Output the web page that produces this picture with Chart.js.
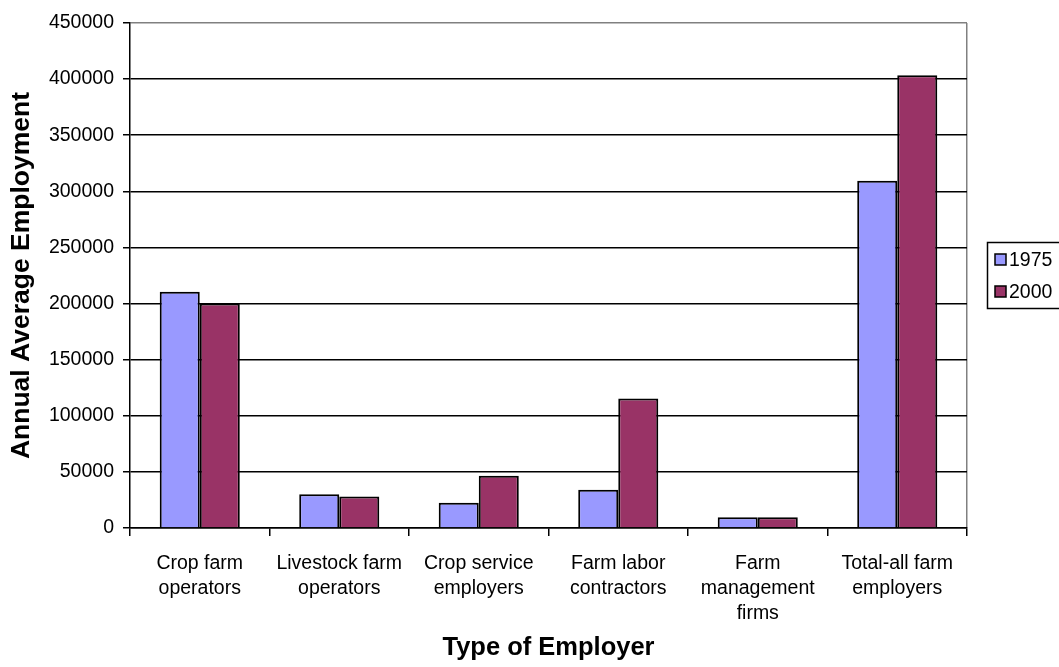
<!DOCTYPE html>
<html>
<head>
<meta charset="utf-8">
<script src="https://cdn.jsdelivr.net/npm/chart.js@4.4.1/dist/chart.umd.min.js"></script>
<style>
  html, body { margin: 0; padding: 0; background: #ffffff; }
  #wrap { width: 1059px; height: 667px; position: relative; }
</style>
</head>
<body>
<div id="wrap"><canvas id="c" width="1059" height="667"></canvas></div>
<script>
const categories = [
  ['Crop farm', 'operators'],
  ['Livestock farm', 'operators'],
  ['Crop service', 'employers'],
  ['Farm labor', 'contractors'],
  ['Farm', 'management', 'firms'],
  ['Total-all farm', 'employers']
];
const seriesNames = ['1975', '2000'];
const values1975 = [210500, 30000, 22500, 34000, 9500, 309500];
const values2000 = [200000, 28000, 46500, 115500, 9500, 403500];
const yTicks = [0, 50000, 100000, 150000, 200000, 250000, 300000, 350000, 400000, 450000];
const xTitle = 'Type of Employer';
const yTitle = 'Annual Average Employment';

const FONT = '"Liberation Sans", Arial, sans-serif';

const legendPlugin = {
  id: 'boxLegend',
  afterDraw(chart) {
    const ctx = chart.ctx;
    ctx.save();
    ctx.strokeStyle = '#000';
    ctx.lineWidth = 1.5;
    ctx.strokeRect(987.5, 242.5, 90, 66);
    const rows = [260, 292];
    chart.data.datasets.forEach((ds, i) => {
      const y = rows[i];
      ctx.fillStyle = ds.backgroundColor;
      ctx.fillRect(995, y - 6, 11, 11);
      ctx.strokeStyle = '#000';
      ctx.lineWidth = 1.5;
      ctx.strokeRect(995, y - 6, 11, 11);
      ctx.fillStyle = '#000';
      ctx.font = '19.5px ' + FONT;
      ctx.textBaseline = 'middle';
      ctx.textAlign = 'left';
      ctx.fillText(ds.label, 1009, y + 1);
    });
    ctx.restore();
  }
};

new Chart(document.getElementById('c'), {
  type: 'bar',
  data: {
    labels: categories,
    datasets: [
      { label: seriesNames[0], data: values1975, backgroundColor: '#9999FF', borderColor: '#000', borderWidth: 2 },
      { label: seriesNames[1], data: values2000, backgroundColor: '#993366', borderColor: '#000', borderWidth: 2 }
    ]
  },
  options: {
    responsive: false,
    animation: false,
    devicePixelRatio: 1,
    layout: { padding: { top: 23, right: 92, left: 0, bottom: 0 } },
    datasets: { bar: { categoryPercentage: 0.574, barPercentage: 1.0 } },
    plugins: {
      legend: { display: false },
      tooltip: { enabled: false }
    },
    scales: {
      x: {
        offset: true,
        grid: {
          offset: true,
          drawOnChartArea: true,
          color: (c) => c.type === 'tick' ? 'rgba(0,0,0,0)' : '#808080',
          tickColor: '#000',
          tickLength: 8,
          lineWidth: 1.5
        },
        border: { display: true, color: '#000', width: 1.5 },
        ticks: {
          color: '#000',
          font: { family: FONT, size: 19.5, lineHeight: 1.28 },
          padding: 15,
          maxRotation: 0,
          autoSkip: false
        },
        title: {
          display: true,
          text: xTitle,
          color: '#000',
          font: { family: FONT, size: 25.5, weight: 'bold' },
          padding: { top: 0, bottom: 4 }
        },
        afterFit(scale) { scale.height = 139; }
      },
      y: {
        min: 0,
        max: 450000,
        afterBuildTicks(scale) { scale.ticks = yTicks.map(v => ({ value: v })); },
        grid: {
          color: (c) => (c.tick && c.tick.value === 450000) ? '#808080' : '#000',
          tickColor: '#000',
          tickLength: 7,
          lineWidth: 1.5
        },
        border: { display: true, color: '#000', width: 1.5 },
        ticks: {
          color: '#000',
          font: { family: FONT, size: 19.5 },
          padding: 9,
          callback: (v) => String(v)
        },
        title: {
          display: true,
          text: yTitle,
          color: '#000',
          font: { family: FONT, size: 26.5, weight: 'bold' },
          padding: { top: 6, bottom: 0 }
        },
        afterFit(scale) { scale.width = 130; }
      }
    }
  },
  plugins: [legendPlugin]
});
</script>
</body>
</html>
